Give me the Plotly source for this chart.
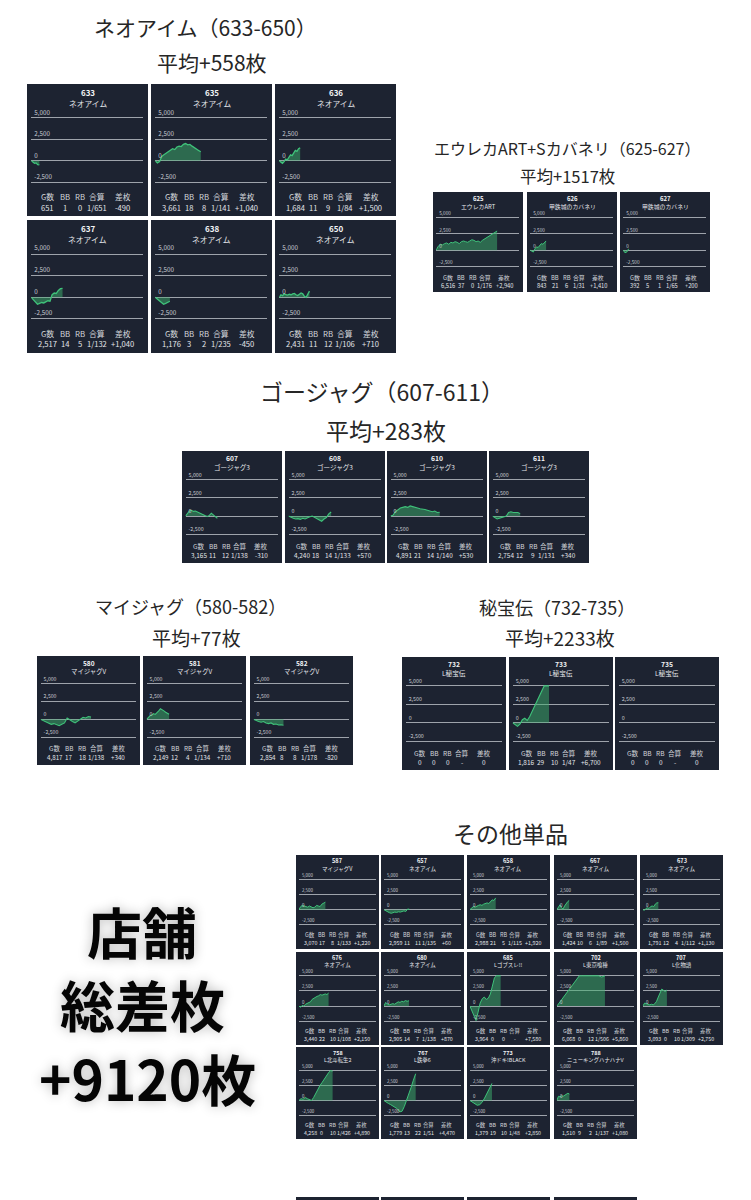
import plotly.graph_objects as go

# ---------------- data ----------------
PANEL_IDS = ["633", "635", "636", "637", "638", "650",
             "625", "626", "627",
             "607", "608", "610", "611",
             "580", "581", "582",
             "732", "733", "735",
             "587", "657", "658", "667", "673",
             "676", "680", "685", "702", "707",
             "758", "767", "773", "788"]
MODELS = ["ネオアイム"] * 6 + ["エウレカART", "甲鉄城のカバネリ", "甲鉄城のカバネリ"] + \
         ["ゴージャグ3"] * 4 + ["マイジャグV"] * 3 + ["L秘宝伝"] * 3 + \
         ["マイジャグV", "ネオアイム", "ネオアイム", "ネオアイム", "ネオアイム",
          "ネオアイム", "ネオアイム", "Lゴブスレ!!", "L東京喰種", "L化物語",
          "L北斗転生2", "L鉄拳6", "沖ドキ!BLACK", "ニューキングハナハナV"]
GAMES = [651, 3661, 1684, 2517, 1176, 2431,
         6516, 843, 392,
         3165, 4240, 4891, 2754,
         4817, 2149, 2854,
         0, 1816, 0,
         3070, 2959, 2988, 1424, 1791,
         3440, 2905, 3964, 6068, 3093,
         4258, 1779, 1379, 1510]
BB = [1, 18, 11, 14, 3, 11, 37, 21, 5, 11, 18, 21, 12, 17, 12, 8, 0, 29, 0,
      17, 11, 21, 10, 12, 22, 14, 0, 0, 0, 0, 13, 19, 9]
RB = [0, 8, 9, 5, 2, 12, 0, 6, 1, 12, 14, 14, 9, 18, 4, 8, 0, 10, 0,
      8, 11, 5, 6, 4, 10, 7, 0, 12, 10, 10, 22, 10, 2]
GOUKEI = ["1/651", "1/141", "1/84", "1/132", "1/235", "1/106",
          "1/176", "1/31", "1/65",
          "1/138", "1/133", "1/140", "1/131",
          "1/138", "1/134", "1/178",
          "-", "1/47", "-",
          "1/133", "1/135", "1/115", "1/89", "1/112",
          "1/108", "1/138", "-", "1/506", "1/309",
          "1/426", "1/51", "1/48", "1/137"]
SAMAI = [-490, 1040, 1500, 1040, -450, 710,
         2940, 1410, 200,
         -310, 570, 530, 340,
         340, 710, -820,
         0, 6700, 0,
         1220, 60, 1920, 1500, 1130,
         2150, 870, 7580, 5860, 2750,
         4890, 4470, 2850, 1080]

# cumulative difference curves (display is capped at 5,000)
S633 = [0, -150, -300, -250, -450, -490]
S635 = [0, -250, -100, 500, 700, 900, 1100, 1300, 1400, 1300, 1600, 1700, 1650,
        1900, 2000, 1850, 1900, 1700, 1500, 1350, 1200, 1040]
S636 = [0, -200, -300, -100, 200, 100, 500, 700, 600, 1000, 1200, 1100, 1400, 1500]
S637 = [0, -300, -600, -800, -700, -600, -650, -500, -400, -450, 300, 500, 450, 800, 1000, 1040]
S638 = [0, -200, -400, -600, -800, -700, -600, -450]
S650 = [0, 300, 200, 400, 300, 250, 350, 300, 400, 450, 300, 200, 350, 500, 400, 100, 0, 400, 710]
S625 = [0, 600, 900, 800, 1000, 1100, 900, 1200, 1100, 1300, 1200, 1000, 1300, 1400, 1300,
        1200, 1400, 1600, 1500, 1300, 1400, 1200, 1500, 1700, 1900, 2100, 2300, 2500, 2800, 2940]
S626 = [0, -200, -300, 200, 500, 400, 800, 1000, 900, 1200, 1410]
S627 = [0, -400, -300, 200]
S607 = [0, 400, 700, 800, 650, 700, 550, 450, 300, 200, 50, -50, 100, 400, 200, -100, -310]
S608 = [0, -200, -300, -400, -350, -450, -300, -400, -200, -100, 0, -200, -300, -500,
        -700, -400, -200, 300, 570]
S610 = [0, 100, 600, 900, 1100, 1200, 1300, 1200, 1400, 1300, 1250, 1100, 1000, 1000,
        900, 800, 700, 600, 700, 500, 530]
S611 = [0, -200, -400, -300, -200, -100, 0, 500, 600, 500, 450, 500, 340]
S580 = [0, -200, -400, -500, -700, -600, -800, -900, -700, -500, 200, -100, -300, -500,
        -200, 100, 300, 200, 400, 340]
S581 = [0, 300, 500, 600, 800, 700, 900, 1200, 1500, 1400, 1200, 1000, 900, 710]
S582 = [0, -200, -300, -400, -300, -500, -600, -500, -700, -650, -800, -750, -820]
S732 = []
S733 = [0, -300, -500, -200, 400, 600, 300, 800, 1500, 2300, 3000, 3800, 4500, 5000, 5000, 5000]
S735 = []
S587 = [0, 500, 700, 600, 500, 400, 600, 500, 300, 400, 700, 600, 500, 900, 1100, 1220]
S657 = [0, -200, -400, -500, -600, -500, -400, -450, -350, -400, -300, -200, -300, 100, 60]
S658 = [0, 300, 500, 400, 600, 700, 800, 700, 900, 1000, 1100, 1000, 1300, 1600, 1500, 1920]
S667 = [0, 400, 800, 300, 100, 600, 1000, 1300, 1500]
S673 = [0, -100, 200, 300, 200, 500, 600, 500, 900, 1100, 1130]
S676 = [0, -200, 100, 0, 300, 400, 500, 700, 1100, 1300, 1400, 1600, 1700, 1900, 1800,
        1900, 2000, 1900, 2150]
S680 = [0, 600, 300, 200, 300, 400, 300, 500, 700, 600, 800, 700, 900, 800, 870]
S685 = [0, -800, -1600, -2400, -1000, 500, 1200, 1500, 1100, 1300, 2000, 3500, 4700,
        5000, 5000, 5000]
S702 = [0, 700, 1400, 2100, 2800, 3500, 4200, 5000, 5000, 5000, 5000, 5000, 5000,
        5000, 4800, 5000]
S707 = [0, 500, 400, 300, 200, 300, 200, 400, 800, 1500, 2200, 2800, 2600, 2400, 2650]
S758 = [0, 300, 200, 500, 300, 100, 0, 500, 1200, 1800, 2500, 3000, 3600, 4200, 4600, 5000, 4900]
S767 = [0, -300, -500, -700, -900, -1200, -1400, -1900, -1800, -1000, 0, 1000, 2200, 3400, 4470]
S773 = [0, -300, -600, -800, -700, -300, 400, 1200, 2000, 2850]
S788 = [0, 700, 600, 800, 700, 900, 1000, 1200, 1080]

SERIES = [S633, S635, S636, S637, S638, S650, S625, S626, S627,
          S607, S608, S610, S611, S580, S581, S582, S732, S733, S735,
          S587, S657, S658, S667, S673, S676, S680, S685, S702, S707,
          S758, S767, S773, S788]

Y_TICKS = [-2500, 0, 2500, 5000]
Y_TICK_LABELS = ["-2,500", "0", "2,500", "5,000"]
STAT_HEAD = ["G数", "BB", "RB", "合算", "差枚"]

SECTION_TITLES = ["ネオアイム（633-650）", "平均+558枚",
                  "エウレカART+Sカバネリ（625-627）", "平均+1517枚",
                  "ゴージャグ（607-611）", "平均+283枚",
                  "マイジャグ（580-582）", "平均+77枚",
                  "秘宝伝（732-735）", "平均+2233枚",
                  "その他単品"]
BIG_TEXT = ["店舗", "総差枚", "+9120枚"]

# ---------------- layout (pixel geometry) ----------------
W, H = 751, 1200


def X(px):
    return px / W


def Y(py):
    return 1 - py / H


# panel boxes: x0, y0, width, height, x-axis max (games)
POS = []
for x0 in (27, 151, 275):
    POS.append((x0, 84, 121, 132, 9000))
for x0 in (27, 151, 275):
    POS.append((x0, 220, 121, 133, 9000))
POS += [(433, 192, 90, 100, 8900), (527, 192, 90, 100, 4400), (620, 192, 90, 100, 6000)]
POS += [(x0, 451, 100, 112, 9200) for x0 in (182, 285, 387, 489)]
POS += [(x0, 656, 103, 109, 9100) for x0 in (37, 143, 250)]
POS += [(402, 657, 104, 113, 9000), (509, 657, 104, 113, 4800), (615, 657, 104, 113, 9000)]
COLS = (296, 381, 467, 554, 640)
POS += [(x0, 855, 83, 94, 8900) for x0 in COLS]
POS += [(296, 952, 83, 93, 8900), (381, 952, 83, 93, 8900), (467, 952, 83, 93, 9900),
        (554, 952, 83, 93, 9700), (640, 952, 83, 93, 9900)]
POS += [(296, 1047, 83, 92, 9700), (381, 1047, 83, 92, 4300), (467, 1047, 83, 92, 4800),
        (554, 1047, 83, 92, 9300)]

TITLE_POS = [(205, 27, 21), (212, 62, 21),
             (567, 148, 16), (567, 176, 16.5),
             (382, 391, 23), (386, 430, 23),
             (190, 606, 18), (196, 637, 19),
             (557, 607, 18), (560, 637, 19),
             (511, 833, 23)]
BIG_POS = [(142, 930), (142, 1003), (147, 1077)]

PANEL_BG = "#1d2331"
GRID = "#9ea3ab"
LINE = "#3fc27a"
FILL = "rgba(62,178,110,0.50)"
FONT = "Noto Sans CJK JP, Noto Sans, sans-serif"
COL_FR = [0.17, 0.31, 0.44, 0.575, 0.79]

fig = go.Figure()
shapes, annotations = [], []
layout_axes = {}

YR = (-2800, 6400)
for i, (pid, model, g, bb, rb, gk, sm, ser, pos) in enumerate(
        zip(PANEL_IDS, MODELS, GAMES, BB, RB, GOUKEI, SAMAI, SERIES, POS)):
    x0, y0, w, h, xmax = pos
    s = h / 133.0
    k = i + 1
    shapes.append(dict(type="rect", xref="paper", yref="paper", layer="below",
                       x0=X(x0), x1=X(x0 + w), y0=Y(y0 + h), y1=Y(y0),
                       fillcolor=PANEL_BG, line=dict(width=0)))
    # y-domain so that 5,000 sits at 25.6% and -2,500 at 74.4% of the panel height
    per_unit = 0.488 * h / 7500.0
    top_px = y0 + 0.256 * h - (YR[1] - 5000) * per_unit
    bot_px = y0 + 0.744 * h + (-2500 - YR[0]) * per_unit
    xa = "xaxis" if k == 1 else f"xaxis{k}"
    ya = "yaxis" if k == 1 else f"yaxis{k}"
    xr = "x" if k == 1 else f"x{k}"
    yr = "y" if k == 1 else f"y{k}"
    layout_axes[xa] = dict(domain=[X(x0 + 0.035 * w), X(x0 + 0.96 * w)], range=[0, xmax],
                           anchor=yr, visible=False, fixedrange=True)
    layout_axes[ya] = dict(domain=[Y(bot_px), Y(top_px)], range=list(YR), anchor=xr,
                           tickmode="array", tickvals=Y_TICKS, ticktext=Y_TICK_LABELS,
                           showgrid=True, gridcolor=GRID, gridwidth=1, zeroline=False,
                           showline=False, ticks="", ticklabelposition="inside",
                           ticklabelshift=-int(round(5.5 * s)), ticklabelstandoff=0,
                           tickfont=dict(size=6.3 * s, color="#c9ccd2", family=FONT),
                           fixedrange=True)
    n = len(ser)
    xs = [g * j / (n - 1) for j in range(n)] if n > 1 else []
    fig.add_trace(go.Scatter(x=xs, y=ser, xaxis=xr, yaxis=yr, mode="lines",
                             line=dict(color=LINE, width=max(1.0, 1.3 * s)),
                             fill="tozeroy", fillcolor=FILL, hoverinfo="skip",
                             showlegend=False))
    cx = x0 + w / 2
    annotations.append(dict(text=f"<b>{pid}</b>", x=X(cx), y=Y(y0 + 0.062 * h),
                            font=dict(size=8 * s, color="#f2f3f5", family=FONT)))
    annotations.append(dict(text=model, x=X(cx), y=Y(y0 + 0.145 * h),
                            font=dict(size=7.8 * s, color="#e4e6ea", family=FONT)))
    vals = [f"{g:,}", str(bb), str(rb), gk, "0" if sm == 0 else f"{sm:+,}"]
    for fr, head, val in zip(COL_FR, STAT_HEAD, vals):
        annotations.append(dict(text=head, x=X(x0 + fr * w), y=Y(y0 + 0.85 * h),
                                font=dict(size=7.8 * s, color="#d3d6db", family=FONT)))
        annotations.append(dict(text=val, x=X(x0 + fr * w), y=Y(y0 + 0.932 * h),
                                font=dict(size=7.6 * s, color="#e4e6ea", family=FONT)))

# cut-off panels of the next section at the bottom edge
for x0 in COLS[:4]:
    shapes.append(dict(type="rect", xref="paper", yref="paper", layer="below",
                       x0=X(x0), x1=X(x0 + 83), y0=Y(1205), y1=Y(1197),
                       fillcolor=PANEL_BG, line=dict(width=0)))

for txt, (cx, cy, fs) in zip(SECTION_TITLES, TITLE_POS):
    annotations.append(dict(text=txt, x=X(cx), y=Y(cy),
                            font=dict(size=fs, color="#262626", family=FONT)))

for txt, (cx, cy) in zip(BIG_TEXT, BIG_POS):
    annotations.append(dict(text=f"<b>{txt}</b>", x=X(cx), y=Y(cy),
                            font=dict(size=55, color="#050505", family=FONT,
                                      shadow="0px 0px 12px rgba(0,0,0,0.28)")))

for a in annotations:
    a.update(xref="paper", yref="paper", showarrow=False,
             xanchor="center", yanchor="middle")

fig.update_layout(width=W, height=H, margin=dict(l=0, r=0, t=0, b=0),
                  paper_bgcolor="white", plot_bgcolor="rgba(0,0,0,0)",
                  showlegend=False, shapes=shapes, annotations=annotations,
                  **layout_axes)

fig.write_html("out.html", config={"displayModeBar": False},
               post_script="document.body.style.margin='0px';")
